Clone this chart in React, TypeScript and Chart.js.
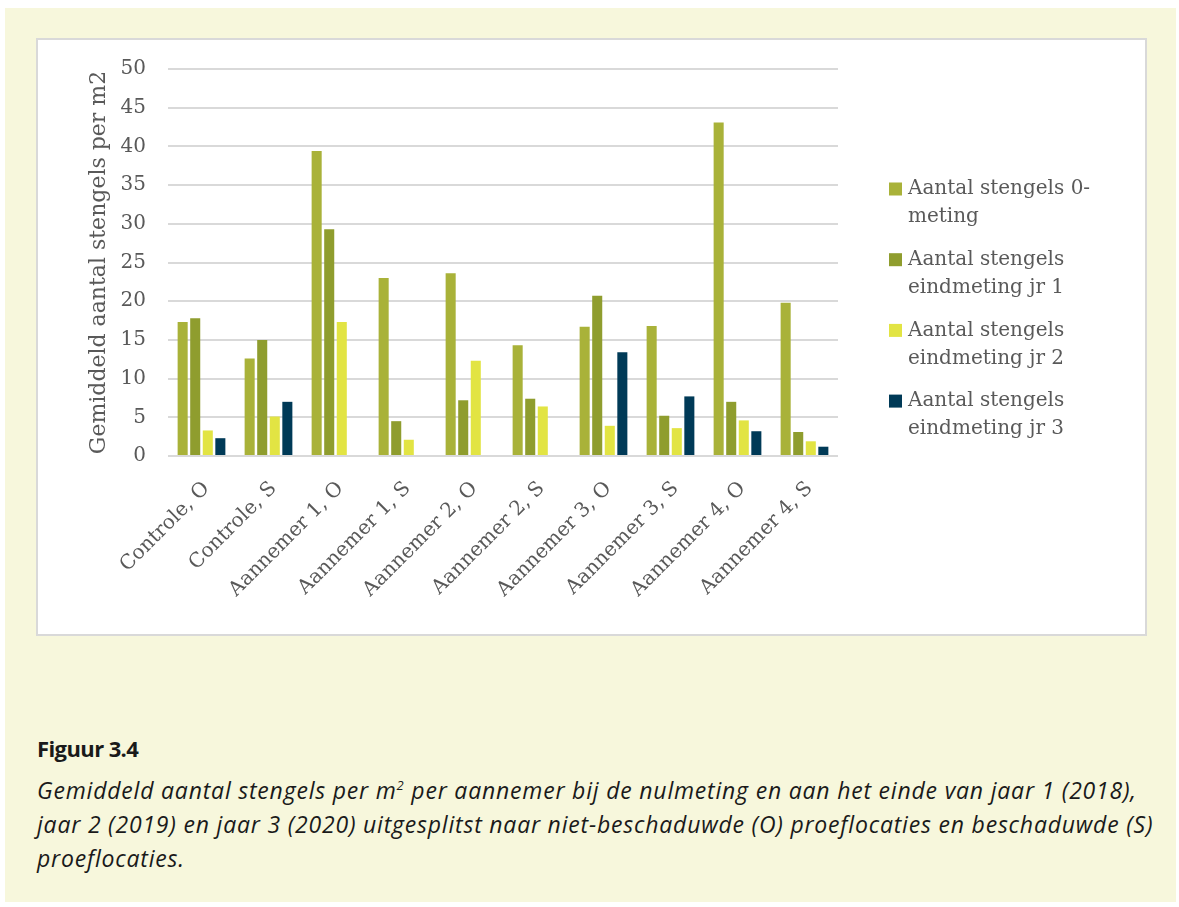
import React, { useEffect, useRef } from "react";
import { Chart, registerables } from "chart.js";

Chart.register(...registerables);

// ---------- data ----------
const categories = [
  "Controle, O",
  "Controle, S",
  "Aannemer 1, O",
  "Aannemer 1, S",
  "Aannemer 2, O",
  "Aannemer 2, S",
  "Aannemer 3, O",
  "Aannemer 3, S",
  "Aannemer 4, O",
  "Aannemer 4, S",
];
const nulmeting = [17.3, 12.6, 39.4, 23.0, 23.6, 14.3, 16.7, 16.8, 43.1, 19.8];
const eindJr1 = [17.8, 15.0, 29.3, 4.5, 7.2, 7.4, 20.7, 5.2, 7.0, 3.1];
const eindJr2 = [3.3, 5.1, 17.3, 2.1, 12.3, 6.4, 3.9, 3.6, 4.6, 1.9];
const eindJr3 = [2.3, 7.0, null, null, null, null, 13.4, 7.7, 3.2, 1.2];
const seriesNames = [
  "Aantal stengels 0-meting",
  "Aantal stengels eindmeting jr 1",
  "Aantal stengels eindmeting jr 2",
  "Aantal stengels eindmeting jr 3",
];
const legendLines = [
  ["Aantal stengels 0-", "meting"],
  ["Aantal stengels", "eindmeting jr 1"],
  ["Aantal stengels", "eindmeting jr 2"],
  ["Aantal stengels", "eindmeting jr 3"],
];
const yMin = 0;
const yMax = 50;
const yStep = 5;
const yTitle = "Gemiddeld aantal stengels per m2";

// ---------- styles ----------
const COLORS = ["#a9b239", "#8f9d2e", "#e2e443", "#003a57"];
const TEXT = "#595959";
const GRID = "#d9d9d9";
const SERIF = '"DejaVu Serif", serif';

const CANVAS_W = 1107;
const CANVAS_H = 594;

const sideLegend = {
  id: "sideLegend",
  afterDraw(chart: any) {
    const ctx = chart.ctx;
    const x0 = chart.chartArea.right + 51;
    const top = 149;
    const gap = 70.7;
    ctx.save();
    ctx.font = `20px ${SERIF}`;
    ctx.textBaseline = "middle";
    ctx.textAlign = "left";
    chart.data.datasets.forEach((ds: any, i: number) => {
      const y = top + i * gap;
      ctx.fillStyle = ds.backgroundColor;
      ctx.fillRect(x0, y - 6.5, 13, 13);
      ctx.fillStyle = TEXT;
      legendLines[i].forEach((line, j) => {
        ctx.fillText(line, x0 + 19, y + j * 28);
      });
    });
    ctx.restore();
  },
};

function BarChart() {
  const ref = useRef<HTMLCanvasElement | null>(null);
  useEffect(() => {
    if (!ref.current) return;
    const series = [nulmeting, eindJr1, eindJr2, eindJr3];
    const chart = new Chart(ref.current, {
      type: "bar",
      data: {
        labels: categories,
        datasets: series.map((d, i) => ({
          label: seriesNames[i],
          data: d as any,
          backgroundColor: COLORS[i],
          borderWidth: 0,
          categoryPercentage: 0.75,
          barPercentage: 0.8,
        })),
      },
      options: {
        responsive: false,
        animation: false,
        devicePixelRatio: 1,
        layout: { padding: { left: 0, top: 29, right: 307, bottom: 0 } },
        plugins: {
          legend: { display: false },
          tooltip: { enabled: false },
        },
        scales: {
          x: {
            grid: { display: false, drawTicks: false },
            border: { display: false },
            ticks: {
              autoSkip: false,
              maxRotation: 45,
              minRotation: 45,
              color: TEXT,
              font: { family: SERIF, size: 20 },
              padding: 21,
              labelOffset: 5,
            },
            afterFit(scale: any) {
              scale.height = 178;
              scale.paddingLeft = 0;
              scale.paddingRight = 0;
            },
          },
          y: {
            min: yMin,
            max: yMax,
            grid: { color: GRID, lineWidth: 2, drawTicks: false },
            border: { display: false },
            ticks: {
              stepSize: yStep,
              color: TEXT,
              font: { family: SERIF, size: 20 },
              padding: 22,
            },
            title: {
              display: true,
              text: yTitle,
              color: TEXT,
              font: { family: SERIF, size: 22, weight: "normal" },
              padding: { top: 48, bottom: 0 },
            },
            afterFit(scale: any) {
              scale.width = 130;
              scale.paddingTop = 0;
              scale.paddingBottom = 0;
            },
          },
        },
      },
      plugins: [sideLegend],
    });
    return () => chart.destroy();
  }, []);
  return <canvas ref={ref} width={CANVAS_W} height={CANVAS_H} style={{ display: "block", width: CANVAS_W, height: CANVAS_H }} />;
}

export default function App() {
  const captionFont = '"Open Sans", "Noto Sans", sans-serif';
  return (
    <div style={{ position: "absolute", left: 0, top: 0, width: 1179, height: 907, background: "#ffffff", overflow: "hidden" }}>
      <div style={{ position: "absolute", left: 5, top: 8, width: 1171, height: 894, background: "#f7f7dc" }} />
      <div
        style={{
          position: "absolute",
          left: 36,
          top: 38,
          width: 1111,
          height: 598,
          boxSizing: "border-box",
          border: "2px solid #d9d9d9",
          background: "#ffffff",
        }}
      >
        <BarChart />
      </div>
      <div
        style={{
          position: "absolute",
          left: 37,
          top: 734,
          fontFamily: captionFont,
          fontWeight: 700,
          fontSize: 22,
          letterSpacing: -0.6,
          color: "#1a1a1a",
          lineHeight: "28px",
          whiteSpace: "nowrap",
        }}
      >
        Figuur 3.4
      </div>
      <div
        style={{
          position: "absolute",
          left: 37,
          top: 773,
          fontFamily: captionFont,
          fontStyle: "italic",
          fontSize: 23,
          letterSpacing: 0.8,
          color: "#1a1a1a",
          lineHeight: "34px",
          whiteSpace: "nowrap",
        }}
      >
        <div>
          Gemiddeld aantal stengels per m<sup style={{ fontSize: 13, verticalAlign: "super", lineHeight: 0 }}>2</sup> per aannemer bij de nulmeting en aan het einde van jaar 1 (2018),
        </div>
        <div>jaar 2 (2019) en jaar 3 (2020) uitgesplitst naar niet-beschaduwde (O) proeflocaties en beschaduwde (S)</div>
        <div>proeflocaties.</div>
      </div>
    </div>
  );
}
